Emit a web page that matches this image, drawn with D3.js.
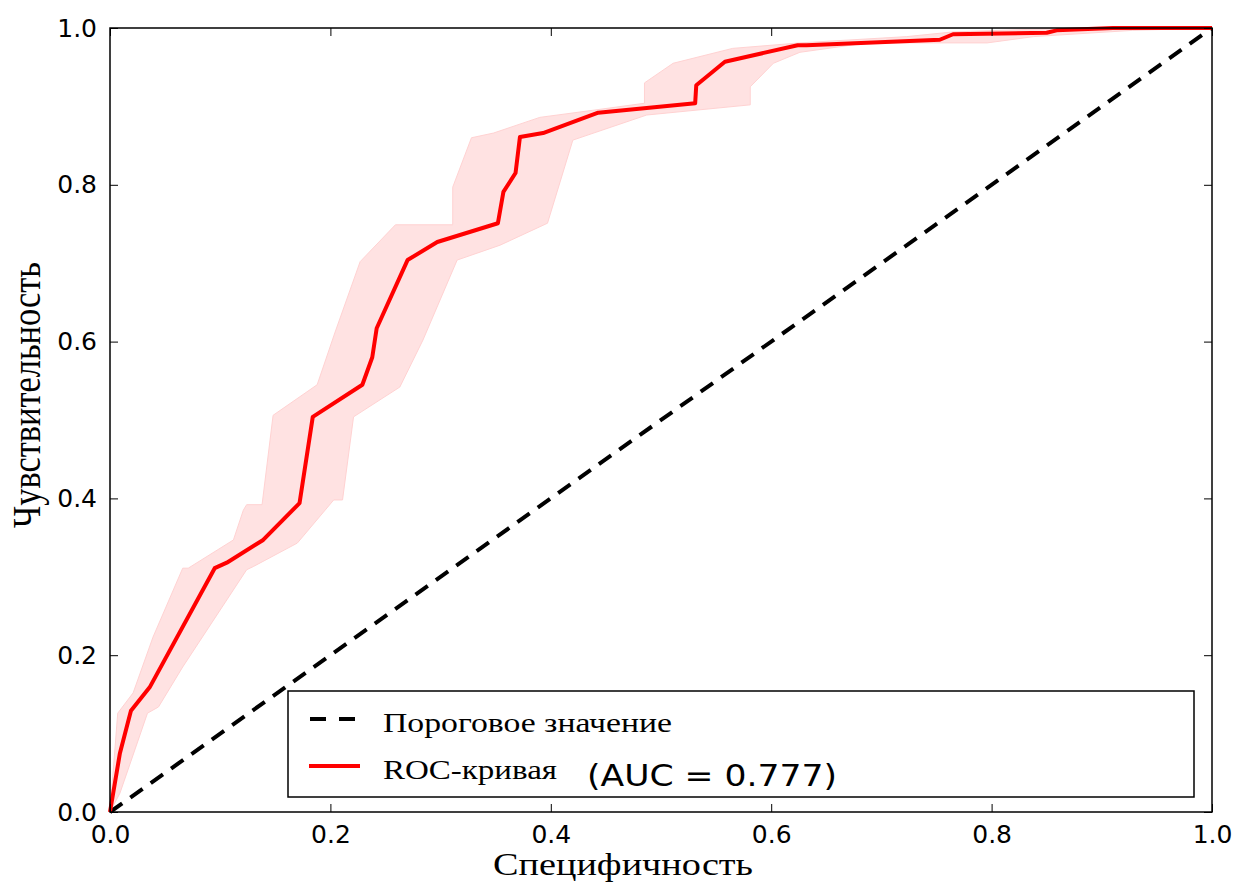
<!DOCTYPE html>
<html>
<head>
<meta charset="utf-8">
<script src="https://cdn.jsdelivr.net/npm/d3@7"></script>
<style>
  body { margin: 0; background: #fff; }
</style>
</head>
<body>
<div id="roc"></div>
<script>
// ROC curve (x = 1 - specificity as plotted, y = sensitivity)
var rocX = [0, 0.009, 0.019, 0.036, 0.095, 0.106, 0.139, 0.172, 0.184, 0.229, 0.238, 0.242, 0.270, 0.297, 0.352, 0.357, 0.368, 0.372, 0.393, 0.443, 0.531, 0.532, 0.558, 0.624, 0.632, 0.753, 0.765, 0.850, 0.859, 0.910, 1.0];
var rocY = [0, 0.075, 0.129, 0.159, 0.311, 0.318, 0.347, 0.394, 0.504, 0.545, 0.580, 0.617, 0.704, 0.727, 0.751, 0.791, 0.815, 0.861, 0.866, 0.892, 0.904, 0.927, 0.957, 0.978, 0.978, 0.985, 0.992, 0.994, 0.997, 1.0, 1.0];

// confidence band, upper edge
var upX = [0, 0.007, 0.021, 0.039, 0.066, 0.071, 0.112, 0.121, 0.124, 0.138, 0.148, 0.188, 0.204, 0.227, 0.259, 0.311, 0.311, 0.328, 0.348, 0.390, 0.438, 0.485, 0.485, 0.511, 0.565, 0.626, 0.723, 0.765, 0.850, 1.0];
var upY = [0, 0.126, 0.152, 0.223, 0.311, 0.311, 0.347, 0.385, 0.392, 0.392, 0.506, 0.545, 0.611, 0.702, 0.749, 0.749, 0.797, 0.860, 0.866, 0.886, 0.895, 0.904, 0.930, 0.955, 0.974, 0.981, 0.989, 0.995, 0.999, 1.0];

// confidence band, lower edge
var loX = [0, 0.009, 0.034, 0.044, 0.066, 0.124, 0.130, 0.170, 0.203, 0.211, 0.221, 0.263, 0.284, 0.315, 0.354, 0.397, 0.420, 0.487, 0.581, 0.581, 0.602, 0.626, 0.687, 0.796, 0.838, 0.928, 1.0];
var loY = [0, 0.024, 0.126, 0.134, 0.185, 0.309, 0.313, 0.343, 0.398, 0.398, 0.504, 0.542, 0.602, 0.704, 0.723, 0.751, 0.857, 0.889, 0.902, 0.925, 0.955, 0.969, 0.981, 0.981, 0.989, 0.997, 1.0];

var ticks = [0, 0.2, 0.4, 0.6, 0.8, 1.0];
var auc = 0.777;

var margin = { top: 28, right: 24, bottom: 72, left: 110 },
    width = 1236 - margin.left - margin.right,
    height = 884 - margin.top - margin.bottom;

var svg = d3.select("#roc")
    .append("svg")
    .attr("width", 1236)
    .attr("height", 884)
    .append("g")
    .attr("transform", "translate(" + margin.left + "," + margin.top + ")");

var x = d3.scaleLinear().domain([0, 1]).range([0, width]);
var y = d3.scaleLinear().domain([0, 1]).range([height, 0]);
var line = d3.line().x(function (d) { return x(d[0]); }).y(function (d) { return y(d[1]); });

// band polygon: upper edge forward, lower edge backward
var band = upX.map(function (v, i) { return [v, upY[i]]; })
    .concat(loX.map(function (v, i) { return [v, loY[i]]; }).reverse());
svg.append("path")
    .datum(band)
    .attr("d", line)
    .attr("fill", "#ffe2e2")
    .attr("stroke", "#ffd2d2")
    .attr("stroke-width", 1);

// chance line
svg.append("path")
    .datum([[0, 0], [1, 1]])
    .attr("d", line)
    .attr("stroke", "#000")
    .attr("stroke-width", 4)
    .attr("stroke-dasharray", "15,10")
    .attr("fill", "none");

// ROC curve
var roc = rocX.map(function (v, i) { return [v, rocY[i]]; });
svg.append("path")
    .datum(roc)
    .attr("d", line)
    .attr("stroke", "#ff0000")
    .attr("stroke-width", 4)
    .attr("stroke-linejoin", "round")
    .attr("fill", "none");

// axes, ticks pointing inward on all four sides
function styleAxis(g) {
    g.select(".domain").remove();
    g.selectAll(".tick line").attr("stroke", "#000").attr("stroke-width", 1);
    g.selectAll(".tick text")
        .style("font-family", "'DejaVu Sans', sans-serif")
        .style("font-size", "25px")
        .attr("fill", "#000");
}
svg.append("g")
    .attr("transform", "translate(0," + height + ")")
    .call(d3.axisBottom(x).tickValues(ticks).tickFormat(d3.format(".1f")).tickSizeInner(-8).tickPadding(13))
    .call(styleAxis);
svg.append("g")
    .call(d3.axisLeft(y).tickValues(ticks).tickFormat(d3.format(".1f")).tickSizeInner(-8).tickPadding(13))
    .call(styleAxis);
svg.append("g")
    .call(d3.axisTop(x).tickValues(ticks).tickFormat("").tickSizeInner(-8))
    .call(styleAxis);
svg.append("g")
    .attr("transform", "translate(" + width + ",0)")
    .call(d3.axisRight(y).tickValues(ticks).tickFormat("").tickSizeInner(-8))
    .call(styleAxis);

// frame
svg.append("rect")
    .attr("width", width)
    .attr("height", height)
    .attr("fill", "none")
    .attr("stroke", "#000")
    .attr("stroke-width", 1.5);

// axis labels
svg.append("text")
    .attr("x", 493 - margin.left)
    .attr("y", 875 - margin.top)
    .attr("textLength", 260)
    .attr("lengthAdjust", "spacingAndGlyphs")
    .style("font-family", "'Liberation Serif', serif")
    .style("font-size", "32px")
    .text("Специфичность");
svg.append("text")
    .attr("transform", "translate(" + (40 - margin.left) + "," + (395 - margin.top) + ") rotate(-90) scale(1,1.25)")
    .attr("x", -133)
    .attr("textLength", 266)
    .attr("lengthAdjust", "spacingAndGlyphs")
    .style("font-family", "'Liberation Serif', serif")
    .style("font-size", "32px")
    .text("Чувствительность");

// legend
var legend = svg.append("g").attr("transform", "translate(" + (288 - margin.left) + "," + (691 - margin.top) + ")");
legend.append("rect")
    .attr("width", 906)
    .attr("height", 106)
    .attr("fill", "#fff")
    .attr("stroke", "#000")
    .attr("stroke-width", 1.5);
legend.append("line")
    .attr("x1", 22).attr("x2", 68).attr("y1", 28).attr("y2", 28)
    .attr("stroke", "#000").attr("stroke-width", 4).attr("stroke-dasharray", "16,13");
legend.append("line")
    .attr("x1", 21).attr("x2", 72).attr("y1", 75).attr("y2", 75)
    .attr("stroke", "#ff0000").attr("stroke-width", 4);
legend.append("text")
    .attr("x", 95).attr("y", 41)
    .attr("textLength", 289)
    .attr("lengthAdjust", "spacingAndGlyphs")
    .style("font-family", "'Liberation Serif', serif")
    .style("font-size", "28px")
    .text("Пороговое значение");
legend.append("text")
    .attr("x", 95).attr("y", 88)
    .attr("textLength", 174)
    .attr("lengthAdjust", "spacingAndGlyphs")
    .style("font-family", "'Liberation Serif', serif")
    .style("font-size", "28px")
    .text("ROC-кривая");
legend.append("text")
    .attr("x", 299).attr("y", 95)
    .attr("textLength", 250)
    .attr("lengthAdjust", "spacingAndGlyphs")
    .style("font-family", "'DejaVu Sans', sans-serif")
    .style("font-size", "30px")
    .text("(AUC = " + auc.toFixed(3) + ")");
</script>
</body>
</html>
